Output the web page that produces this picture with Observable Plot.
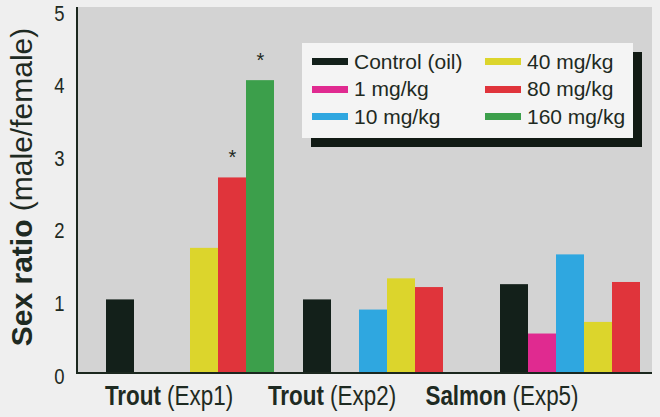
<!DOCTYPE html>
<html>
<head>
<meta charset="utf-8">
<script src="https://cdn.jsdelivr.net/npm/d3@7"></script>
<script src="https://cdn.jsdelivr.net/npm/@observablehq/plot@0.6"></script>
<style>
  html, body { margin: 0; padding: 0; background: #efefef; overflow: hidden; }
  #wrap { position: relative; width: 660px; height: 417px; }
  #bg { position: absolute; left: 76px; top: 7px; width: 574px; height: 365px;
        background: #d3d3d3; border-left: 2px solid #1b271e; border-bottom: 2px solid #1b271e; }
  #chart { position: absolute; left: 0; top: 0; }
  #legend { position: absolute; left: 302px; top: 43px; width: 331px; height: 95px;
            box-sizing: border-box; padding: 5px 0 0 10px; background: #f4f4f4;
            box-shadow: 9px 9px 0 #111a14; display: grid; grid-auto-flow: column;
            grid-template-rows: repeat(3, 27.5px); grid-template-columns: 173px auto;
            font: 21px "Liberation Sans", Arial, sans-serif; color: #1e2a22; }
  .item { display: flex; align-items: center; white-space: nowrap; }
  .sw { width: 36px; height: 7px; margin-right: 6px; flex: none; }
</style>
</head>
<body>
<div id="wrap"><div id="bg"></div><div id="chart"></div><div id="legend"></div></div>
<script>
// ---- data ----
const groups = ["Trout (Exp1)", "Trout (Exp2)", "Salmon (Exp5)"];
const doses = ["Control (oil)", "1 mg/kg", "10 mg/kg", "40 mg/kg", "80 mg/kg", "160 mg/kg"];
const doseColors = ["#13201a", "#e02a90", "#2fa7e0", "#dcd52c", "#e0343b", "#3c9f4b"];
const troutExp1 = [1.00, null, null, 1.71, 2.68, 4.02];
const troutExp2 = [1.00, null, 0.86, 1.29, 1.17, null];
const salmonExp5 = [1.21, 0.53, 1.62, 0.69, 1.24, null];
const sigExp1 = [false, false, false, false, true, true];
const sigExp2 = [false, false, false, false, false, false];
const sigExp5 = [false, false, false, false, false, false];
const yTicks = [0, 1, 2, 3, 4, 5];
const yTitleBold = "Sex ratio";
const yTitleRest = " (male/female)";

// layout-only constants (label offsets relative to group centre)
const labelShift = [-21, -55, -82];

const seriesVals = [troutExp1, troutExp2, salmonExp5];
const seriesSig = [sigExp1, sigExp2, sigExp5];
const rows = [];
groups.forEach((g, gi) => doses.forEach((d, di) => {
  const v = seriesVals[gi][di];
  if (v != null) rows.push({group: g, dose: d, value: v, sig: seriesSig[gi][di]});
}));
const stars = rows.filter(r => r.sig);

const textColor = "#1e2a22";
const sans = "'Liberation Sans', Arial, sans-serif";

const plot = Plot.plot({
  width: 660, height: 417,
  marginLeft: 77, marginRight: -36, marginTop: 9, marginBottom: 45,
  style: {background: "transparent", overflow: "visible", color: textColor, fontFamily: sans},
  fx: {domain: groups, paddingInner: 0.134, paddingOuter: 0.132, axis: null, label: null},
  x: {domain: doses, padding: 0, axis: null},
  y: {domain: [0, 5], axis: null},
  color: {domain: doses, range: doseColors},
  marks: [
    Plot.barY(rows, {fx: "group", x: "dose", y: "value", fill: "dose"}),
    Plot.text(stars, {fx: "group", x: "dose", y: "value", text: () => "*", dy: -20, fontSize: 20, fill: textColor}),
    Plot.axisY({ticks: yTicks, tickFormat: d => String(d), tickSize: 0, tickPadding: 40, fontSize: 22, dy: 4, label: null, fill: textColor}),
    Plot.text(groups, {fx: d => d, text: d => d, frameAnchor: "bottom", dy: 32, fontSize: 27, fill: textColor})
  ]
});
document.getElementById("chart").appendChild(plot);

const svg = d3.select(plot);
// condensed look for tick labels and group labels
svg.selectAll("text").each(function() {
  const t = this.textContent;
  const gi = groups.indexOf(t);
  const tr = this.getAttribute("transform") || "";
  if (gi >= 0) {
    const cut = t.indexOf(" (");
    const sel = d3.select(this);
    sel.text(null);
    sel.append("tspan").attr("font-weight", "bold").text(t.slice(0, cut));
    sel.append("tspan").text(t.slice(cut));
    this.setAttribute("transform", tr + ` translate(${labelShift[gi]},0) scale(0.83,1)`);
  } else if (yTicks.map(String).includes(t)) {
    this.setAttribute("transform", tr + " scale(0.84,1)");
  }
});

// y title
const yt = svg.append("text")
  .attr("transform", "translate(32,187) rotate(-90)")
  .attr("text-anchor", "middle")
  .attr("fill", textColor)
  .style("font-family", sans)
  .style("font-size", "30px");
yt.append("tspan").attr("font-weight", "bold").text(yTitleBold);
yt.append("tspan").text(yTitleRest);

// legend
const legend = d3.select("#legend");
doses.forEach((d, i) => {
  const it = legend.append("div").attr("class", "item");
  it.append("span").attr("class", "sw").style("background", doseColors[i]);
  it.append("span").text(d);
});
</script>
</body>
</html>
